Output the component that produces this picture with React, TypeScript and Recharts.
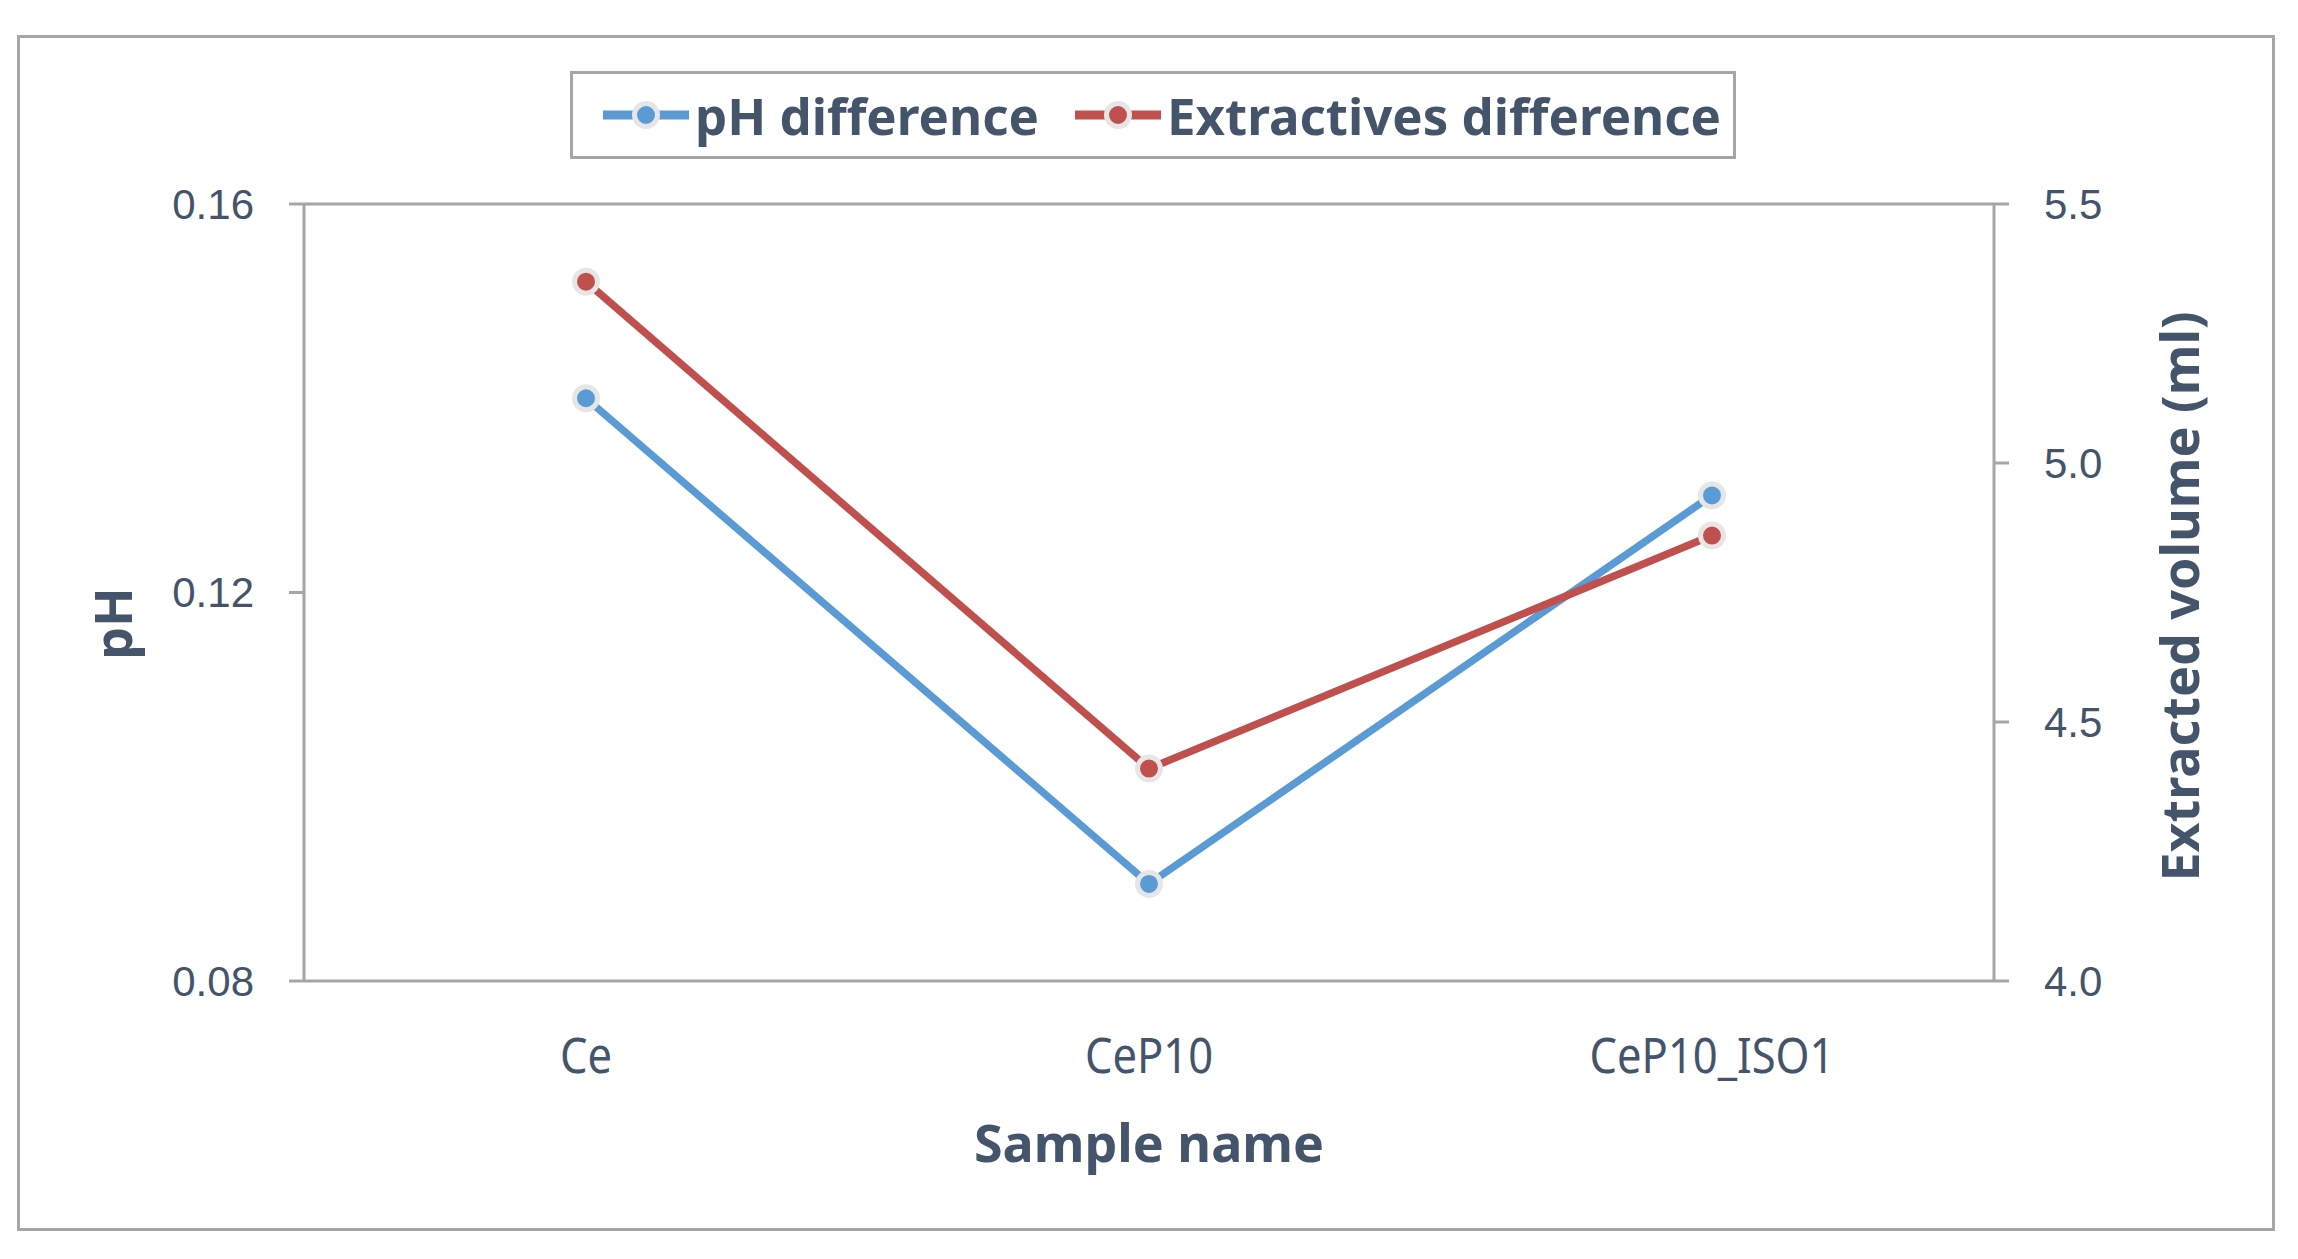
import React from "react";
import { LineChart, Line, XAxis, YAxis, ReferenceLine, Label } from "recharts";

// values
const samples = ["Ce", "CeP10", "CeP10_ISO1"];
const phDiff = [0.14, 0.09, 0.13];
const extractDiff = [5.35, 4.41, 4.86];
const phTicks = [0.08, 0.12, 0.16];
const volTicks = [4.0, 4.5, 5.0, 5.5];

const BLUE = "#5B9BD5";
const RED = "#C0504D";
const RING = "#E6E6E6";
const AXIS = "#A6A6A6";
const TEXT = "#44546A";
const SANS = "'Noto Sans', 'Open Sans', sans-serif";
const DIGITS = "'Liberation Sans', Arial, sans-serif";

const data = samples.map((name, i) => ({ name, ph: phDiff[i], ext: extractDiff[i] }));

function CategoryTick({ x, y, payload }: any) {
  return (
    <g transform={`translate(${x},${y + 92}) scale(0.87,1)`}>
      <text x={0} y={0} textAnchor="middle" fill={TEXT} fontSize={50} fontFamily={SANS}>
        {payload.value}
      </text>
    </g>
  );
}

function LegendItem({ color, label }: { color: string; label: string }) {
  return (
    <div style={{ display: "flex", alignItems: "center" }}>
      <svg width={86} height={32} style={{ display: "block" }}>
        <line x1={0} y1={16} x2={86} y2={16} stroke={color} strokeWidth={9} />
        <circle cx={43} cy={16} r={11.5} fill={color} stroke={RING} strokeWidth={5} />
      </svg>
      <span
        style={{
          marginLeft: 6,
          fontFamily: SANS,
          fontWeight: 700,
          fontSize: 51,
          color: TEXT,
          lineHeight: 1,
          whiteSpace: "nowrap",
        }}
      >
        {label}
      </span>
    </div>
  );
}

export default function App() {
  return (
    <div style={{ position: "absolute", left: 0, top: 0, width: 2298, height: 1259, background: "#fff" }}>
      <div
        style={{
          position: "absolute",
          left: 17,
          top: 35,
          width: 2258,
          height: 1196,
          border: `3px solid ${AXIS}`,
          boxSizing: "border-box",
        }}
      />
      <div
        style={{
          position: "absolute",
          left: 570,
          top: 71,
          width: 1166,
          height: 88,
          border: `3px solid ${AXIS}`,
          boxSizing: "border-box",
          display: "flex",
          alignItems: "center",
          paddingLeft: 30,
          background: "#fff",
        }}
      >
        <LegendItem color={BLUE} label="pH difference" />
        <div style={{ width: 36 }} />
        <LegendItem color={RED} label="Extractives difference" />
      </div>
      <div style={{ position: "absolute", left: 0, top: 0 }}>
        <LineChart width={2298} height={1259} data={data} margin={{ top: 204, right: 164, bottom: 78, left: 164 }}>
          <XAxis
            dataKey="name"
            height={200}
            padding={{ left: 282, right: 282 }}
            interval={0}
            tickLine={false}
            tickSize={0}
            tickMargin={0}
            axisLine={{ stroke: AXIS, strokeWidth: 3 }}
            tick={<CategoryTick />}
          >
            <Label
              value="Sample name"
              position="insideBottom"
              offset={19}
              fill={TEXT}
              fontSize={52}
              fontWeight={700}
              fontFamily={SANS}
            />
          </XAxis>
          <YAxis
            yAxisId="ph"
            orientation="left"
            width={140}
            domain={[0.08, 0.16]}
            ticks={phTicks}
            tickSize={15}
            tickMargin={35}
            axisLine={{ stroke: AXIS, strokeWidth: 3 }}
            tickLine={{ stroke: AXIS, strokeWidth: 3 }}
            tick={{ fontSize: 42, fill: TEXT, fontFamily: DIGITS }}
            tickFormatter={(v: number) => v.toFixed(2)}
          >
            <Label
              content={(props: any) => {
                const vb = props.viewBox || { x: 164, y: 204, width: 140, height: 777 };
                const cx = vb.x - 32;
                const cy = vb.y + vb.height / 2 + 31;
                return (
                  <text
                    x={cx}
                    y={cy}
                    transform={`rotate(-90, ${cx}, ${cy})`}
                    textAnchor="middle"
                    fill={TEXT}
                    fontSize={52}
                    fontWeight={700}
                    fontFamily={SANS}
                  >
                    pH
                  </text>
                );
              }}
            />
          </YAxis>
          <YAxis
            yAxisId="vol"
            orientation="right"
            width={140}
            domain={[4.0, 5.5]}
            ticks={volTicks}
            tickSize={15}
            tickMargin={35}
            axisLine={{ stroke: AXIS, strokeWidth: 3 }}
            tickLine={{ stroke: AXIS, strokeWidth: 3 }}
            tick={{ fontSize: 42, fill: TEXT, fontFamily: DIGITS }}
            tickFormatter={(v: number) => v.toFixed(1)}
          >
            <Label
              content={(props: any) => {
                const vb = props.viewBox || { x: 1994, y: 204, width: 140, height: 777 };
                const cx = vb.x + 205;
                const cy = vb.y + vb.height / 2 + 4;
                return (
                  <text
                    x={cx}
                    y={cy}
                    transform={`rotate(-90, ${cx}, ${cy})`}
                    textAnchor="middle"
                    fill={TEXT}
                    fontSize={52}
                    fontWeight={700}
                    fontFamily={SANS}
                  >
                    Extracted volume (ml)
                  </text>
                );
              }}
            />
          </YAxis>
          <ReferenceLine yAxisId="ph" y={0.16} stroke={AXIS} strokeWidth={3} />
          <Line
            yAxisId="ph"
            type="linear"
            dataKey="ph"
            stroke={BLUE}
            strokeWidth={7.5}
            dot={{ r: 11.5, fill: BLUE, stroke: RING, strokeWidth: 5 }}
            activeDot={false}
            isAnimationActive={false}
          />
          <Line
            yAxisId="vol"
            type="linear"
            dataKey="ext"
            stroke={RED}
            strokeWidth={7.5}
            dot={{ r: 11.5, fill: RED, stroke: RING, strokeWidth: 5 }}
            activeDot={false}
            isAnimationActive={false}
          />
        </LineChart>
      </div>
    </div>
  );
}
